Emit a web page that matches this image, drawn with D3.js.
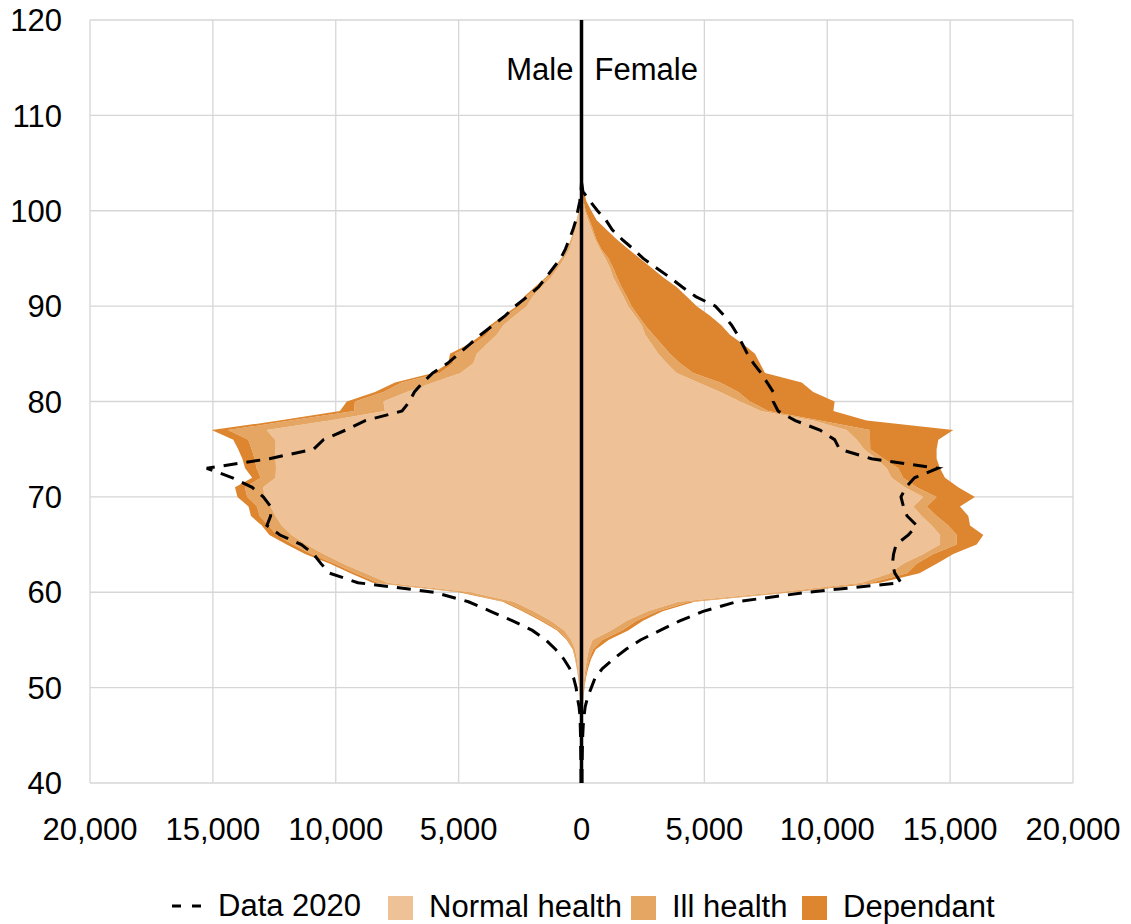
<!DOCTYPE html>
<html>
<head>
<meta charset="utf-8">
<script src="https://cdn.jsdelivr.net/npm/d3@7"></script>
<style>
  html, body { margin: 0; padding: 0; background: #fff; }
  svg { display: block; font-family: "Liberation Sans", Arial, sans-serif; }
</style>
</head>
<body>
<svg id="chart" width="1131" height="924"></svg>
<script>
// ages 40..105, one value per year
const ages = d3.range(40, 106);

const maleNormal = [5,6,8,10,12,15,20,25,35,50,70,100,140,190,260,420,700,1250,1950,2750,
  4500,7900,8800,9700,10500,11200,11800,12200,12450,12650,12900,12950,12450,12430,12450,12470,12470,12810,10250,8000,
  8060,7110,6030,4920,4400,4260,3860,3450,3180,2710,2230,1980,1620,1240,960,700,490,360,250,165,
  90,50,20,8,3,0];
const maleIll = [1,1,2,2,3,3,4,5,7,10,15,25,35,50,70,140,220,330,350,350,
  350,400,400,350,500,550,600,540,650,550,700,750,600,790,850,950,1090,1570,1600,1250,
  1160,950,1290,840,820,890,540,410,410,340,300,250,200,150,120,90,60,45,32,22,
  12,6,3,1,0,0];
const maleDep = [1,1,1,1,1,2,2,3,4,5,7,10,15,20,25,40,70,90,100,100,
  150,200,200,180,250,250,300,270,350,350,400,400,350,470,500,550,610,670,450,580,
  330,340,270,280,200,200,200,200,130,130,110,100,80,70,50,40,30,25,18,13,
  8,4,2,1,0,0];
const male2020 = [20,20,25,30,35,40,50,60,100,170,220,320,480,720,1050,1450,2000,2800,3700,4600,
  6000,9100,10250,10600,10900,11400,12270,12800,12650,12650,12950,13400,14200,15250,12700,10900,10500,9600,8800,7300,
  7000,6800,6450,6050,5450,5000,4550,4100,3600,3100,2700,2200,1750,1450,1150,850,650,500,350,230,
  150,70,20,0,0,0];

const femaleNormal = [5,6,8,10,12,15,20,28,40,55,75,110,160,220,300,450,1200,1840,2700,3950,
  8000,11400,12550,13090,13910,14590,14590,14250,13840,13500,13910,13160,12620,12420,12000,11500,11200,10790,9430,7300,
  6450,5640,4750,3870,3470,3120,2860,2590,2450,2180,1900,1700,1500,1290,1160,970,750,550,410,270,
  130,60,30,15,6,2];
const femaleIll = [1,1,2,2,3,4,5,8,12,18,28,42,65,100,170,400,450,400,400,450,
  400,400,700,550,410,680,680,680,610,550,540,480,470,470,300,250,540,950,270,300,
  400,740,890,680,540,480,400,330,140,130,140,140,130,160,130,130,50,50,60,60,
  40,20,10,5,2,1];
const femaleDep = [1,1,1,2,2,3,4,6,8,12,18,28,45,70,110,250,250,260,200,200,
  200,350,500,810,810,810,1080,880,1290,1350,1560,1690,1700,1700,2150,2700,2780,3390,1900,2650,
  3450,3050,3320,2920,3250,3460,3320,3120,3100,2920,2650,2440,2240,1880,1570,1280,1100,830,550,290,
  230,120,60,35,15,5];
const female2020 = [20,20,25,30,40,50,70,100,150,250,400,550,850,1300,1800,2400,3200,4000,4950,6300,
  9200,13000,12750,12650,12700,12800,13300,13640,13250,13100,13000,13200,13550,14500,11800,10500,10300,9700,8700,8000,
  7800,7800,7550,7300,7000,6750,6550,6350,6110,5800,5450,4650,4100,3600,3050,2510,2100,1650,1250,1000,
  650,350,60,0,0,0];

const xTicks = d3.range(-20000, 20001, 5000);
const yTicks = d3.range(40, 121, 10);
const seriesNames = ["Normal health", "Ill health", "Dependant"];
const seriesColors = ["#EEC197", "#E6A663", "#DD862F"];

const svg = d3.select("#chart");
const plotL = 90, plotR = 1073, plotT = 20, plotB = 783;
const fs = 31;

const x = d3.scaleLinear().domain([-20000, 20000]).range([plotL, plotR]);
const y = d3.scaleLinear().domain([40, 120]).range([plotB, plotT]);

// grid
svg.append("g").selectAll("line").data(yTicks).join("line")
  .attr("x1", plotL).attr("x2", plotR)
  .attr("y1", d => y(d)).attr("y2", d => y(d))
  .attr("stroke", "#d6d6d6").attr("stroke-width", 1.3);
svg.append("g").selectAll("line").data(xTicks).join("line")
  .attr("y1", plotT).attr("y2", plotB)
  .attr("x1", d => x(d)).attr("x2", d => x(d))
  .attr("stroke", "#d6d6d6").attr("stroke-width", 1.3);

// stacked areas
const keys = ["normal", "ill", "dep"];
const maleRows = ages.map((a, i) => ({age: a, normal: maleNormal[i], ill: maleIll[i], dep: maleDep[i]}));
const femaleRows = ages.map((a, i) => ({age: a, normal: femaleNormal[i], ill: femaleIll[i], dep: femaleDep[i]}));
const stack = d3.stack().keys(keys);

function drawSide(rows, sign) {
  const layers = stack(rows);
  const area = d3.area()
    .y(d => y(d.data.age))
    .x0(d => x(sign * d[0]))
    .x1(d => x(sign * d[1]));
  svg.append("g").selectAll("path").data(layers).join("path")
    .attr("d", area)
    .attr("fill", (d, i) => seriesColors[i]);
}
drawSide(maleRows, -1);
drawSide(femaleRows, 1);

// 2020 data
const line = d3.line().x(d => x(d[1])).y(d => y(d[0]));
[[male2020, -1], [female2020, 1]].forEach(([vals, sign]) => {
  svg.append("path")
    .datum(ages.map((a, i) => [a, sign * vals[i]]))
    .attr("d", line)
    .attr("fill", "none")
    .attr("stroke", "#000")
    .attr("stroke-width", 3)
    .attr("stroke-dasharray", "14,9");
});

// centre axis
svg.append("line")
  .attr("x1", x(0)).attr("x2", x(0)).attr("y1", plotT).attr("y2", plotB)
  .attr("stroke", "#000").attr("stroke-width", 3.5);

// tick labels
svg.append("g").selectAll("text").data(yTicks).join("text")
  .attr("x", 62).attr("y", d => y(d)).attr("dy", "0.36em")
  .attr("text-anchor", "end").attr("font-size", fs).attr("fill", "#000")
  .text(d => d);
svg.append("g").selectAll("text").data(xTicks).join("text")
  .attr("x", d => x(d)).attr("y", 840)
  .attr("text-anchor", "middle").attr("font-size", fs).attr("fill", "#000")
  .text(d => d3.format(",")(Math.abs(d)));

svg.append("text").attr("x", x(0) - 8).attr("y", 80).attr("text-anchor", "end")
  .attr("font-size", fs).text("Male");
svg.append("text").attr("x", x(0) + 13).attr("y", 80).attr("text-anchor", "start")
  .attr("font-size", fs).text("Female");

// legend
const lg = svg.append("g");
lg.append("line").attr("x1", 172).attr("x2", 210).attr("y1", 906).attr("y2", 906)
  .attr("stroke", "#000").attr("stroke-width", 3).attr("stroke-dasharray", "9,11");
lg.append("text").attr("x", 218).attr("y", 916).attr("font-size", fs).text("Data 2020");
const legX = [388, 631, 802];
seriesNames.forEach((n, i) => {
  lg.append("rect").attr("x", legX[i]).attr("y", 896).attr("width", 25).attr("height", 24)
    .attr("fill", seriesColors[i]);
  lg.append("text").attr("x", legX[i] + 41).attr("y", 917).attr("font-size", fs).text(n);
});
</script>
</body>
</html>
